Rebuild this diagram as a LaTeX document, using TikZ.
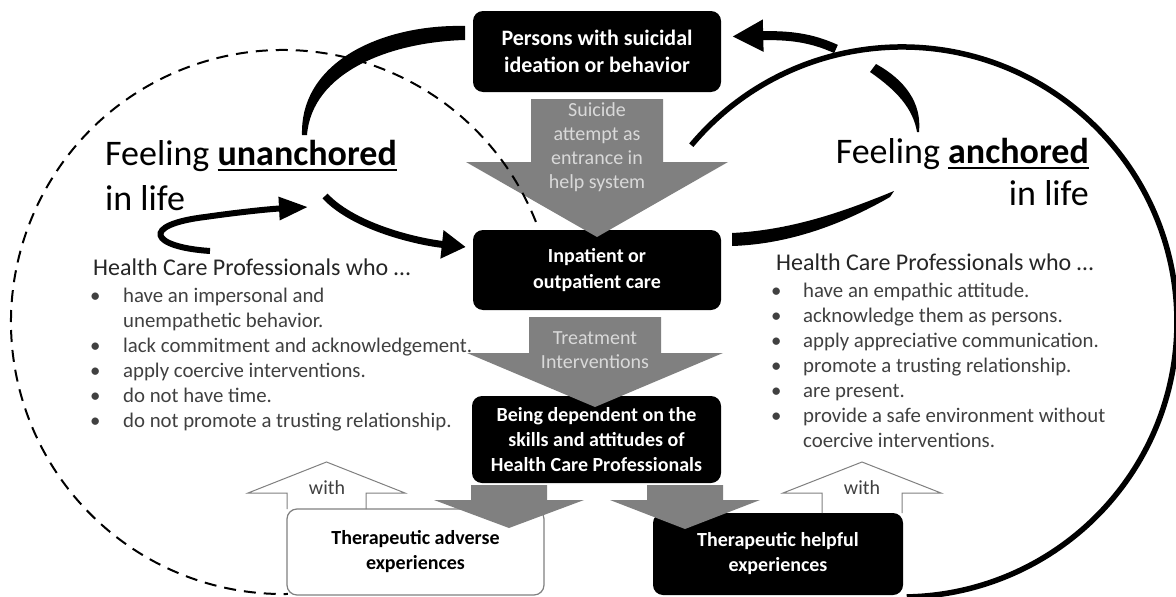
\documentclass[tikz,border=0pt]{standalone}
\usepackage{fontspec}
\setmainfont{Carlito}
\usetikzlibrary{arrows.meta}
\newcommand\underword[1]{\setbox0\hbox{#1}\rlap{\rule[-6pt]{\wd0}{2.2pt}}\box0}
\begin{document}
\begin{tikzpicture}[x=1pt,y=-1pt,
 darkbox/.style={fill=black,text=white,rounded corners=10pt,inner sep=0pt,align=center,font=\bfseries\fontsize{20}{25}\selectfont},
 whitebox/.style={darkbox,fill=white,text=black,draw=gray,line width=1.2pt},
 graytext/.style={text=black!15,align=center,inner sep=0pt,font=\fontsize{20}{24}\selectfont},
 feel/.style={inner sep=0pt,font=\fontsize{36}{42}\selectfont},
 listhead/.style={inner sep=0pt,text=black!85,font=\fontsize{24}{27}\selectfont},
 listitem/.style={inner sep=0pt,text=black!75,font=\fontsize{20.8}{25}\selectfont},
 withtext/.style={inner sep=0pt,text=black!75,font=\fontsize{20}{24}\selectfont}]
 \path[use as bounding box,fill=white] (0,0) rectangle (1176,597);

 \node[darkbox,font=\bfseries\fontsize{22}{27}\selectfont,minimum width=248pt,minimum height=81pt] (persons) at (597,51.5) {Persons with suicidal\\ideation or behavior};
 \node[darkbox,font=\bfseries\fontsize{20}{26}\selectfont,minimum width=248pt,minimum height=80pt] (care) at (597,270) {Inpatient or\\outpatient care};
 \node[darkbox,minimum width=249pt,minimum height=87pt] (depend) at (596.5,439.5) {Being dependent on the\\skills and attitudes of\\Health Care Professionals};
 \node[whitebox,minimum width=257pt,minimum height=86pt] (adverse) at (415.5,552) {Therapeutic adverse\\experiences};
 \node[darkbox,minimum width=250pt,minimum height=82pt] (helpful) at (778,554) {Therapeutic helpful\\experiences};

 \node[feel,anchor=base west] (unanchored) at (105,165) {Feeling \underword{\textbf{unanchored}}};
 \node[feel,anchor=base west] (unlife) at (105,210) {in life};
 \node[feel,anchor=base east] (anchored) at (1089,163) {Feeling \underword{\textbf{anchored}}};
 \node[feel,anchor=base east] (anlife) at (1089,205) {in life};

 \node[listhead,anchor=base west] (neghead) at (93,275) {Health Care Professionals who …};
 \node[listitem,anchor=base west] (negitems) at (90,302) {\begin{tabular}[t]{@{}p{33pt}@{}l@{}}
 \textbullet & have an impersonal and\\
  & unempathetic behavior.\\
 \textbullet & lack commitment and acknowledgement.\\
 \textbullet & apply coercive interventions.\\
 \textbullet & do not have time.\\
 \textbullet & do not promote a trusting relationship.
 \end{tabular}};
 \node[listhead,anchor=base west] (poshead) at (776,270) {Health Care Professionals who …};
 \node[listitem,anchor=base west] (positems) at (771,297) {\begin{tabular}[t]{@{}p{32pt}@{}l@{}}
 \textbullet & have an empathic attitude.\\
 \textbullet & acknowledge them as persons.\\
 \textbullet & apply appreciative communication.\\
 \textbullet & promote a trusting relationship.\\
 \textbullet & are present.\\
 \textbullet & provide a safe environment without\\
  & coercive interventions.
 \end{tabular}};

 \foreach \cx/\ya/\yb/\yc/\sw/\hw in {597/99/162/237/66/131,595/317/353/407/66/128,509/485/500/528/38/75,685/485/500/529/38/75}
  \fill[gray] (\cx-\sw,\ya) -- (\cx+\sw,\ya) -- (\cx+\sw,\yb) -- (\cx+\hw,\yb) -- (\cx,\yc) -- (\cx-\hw,\yb) -- (\cx-\sw,\yb) -- cycle;
 \node[graytext] (attempt) at (597,147) {Suicide\\attempt as\\entrance in\\help system};
 \node[graytext] (treatment) at (595,350) {Treatment\\Interventions};

 \foreach \xl/\xr/\yd in {287/366/509,822/902/513}
  \draw[gray,line width=1pt] (\xl,\yd) -- (\xl,493) -- (\xl-39,493) -- ({(\xl+\xr)/2},462) -- (\xr+39,493) -- (\xr,493) -- (\xr,\yd);
 \node[withtext] (withadverse) at (327,488) {with};
 \node[withtext] (withhelpful) at (862,488) {with};

 \draw[dash pattern=on 12pt off 8pt,line width=2pt] (535.9,221.9) arc[start angle=-21.6,end angle=-271,radius=272];
 \draw[line width=5.5pt] (691.3,145.2) arc[start angle=-140,end angle=89,radius=275];

 \fill (465,26) .. controls (385,24) and (300,60) .. (302,135) -- (307,135) .. controls (312,72) and (390,42) .. (465,40) -- cycle;
 \fill (732,233) .. controls (795,230) and (850,209) .. (894,191) -- (890,197) .. controls (850,220) and (795,244) .. (732,246) -- cycle;
 \fill (876,64) .. controls (905,80) and (922,103) .. (919,132) -- (917,132) .. controls (913,108) and (896,90) .. (870,72) -- cycle;

 \draw[line width=9pt,-{Triangle[length=31pt,width=30pt]}] (836,49) .. controls (812,38) and (790,35) .. ([shift={(11pt,15pt)}]persons.east);
 \draw[line width=7pt,-{Triangle[length=24pt,width=27pt]}] (325,196) .. controls (355,228) and (420,242) .. ([shift={(-7pt,23pt)}]care.west);
 \draw[line width=6pt,-{Triangle[length=29pt,width=22pt]}] (210,251) .. controls (150,247) and (140,225) .. (205,217) .. controls (240,212) and (270,209) .. (308,207);
\end{tikzpicture}
\end{document}
